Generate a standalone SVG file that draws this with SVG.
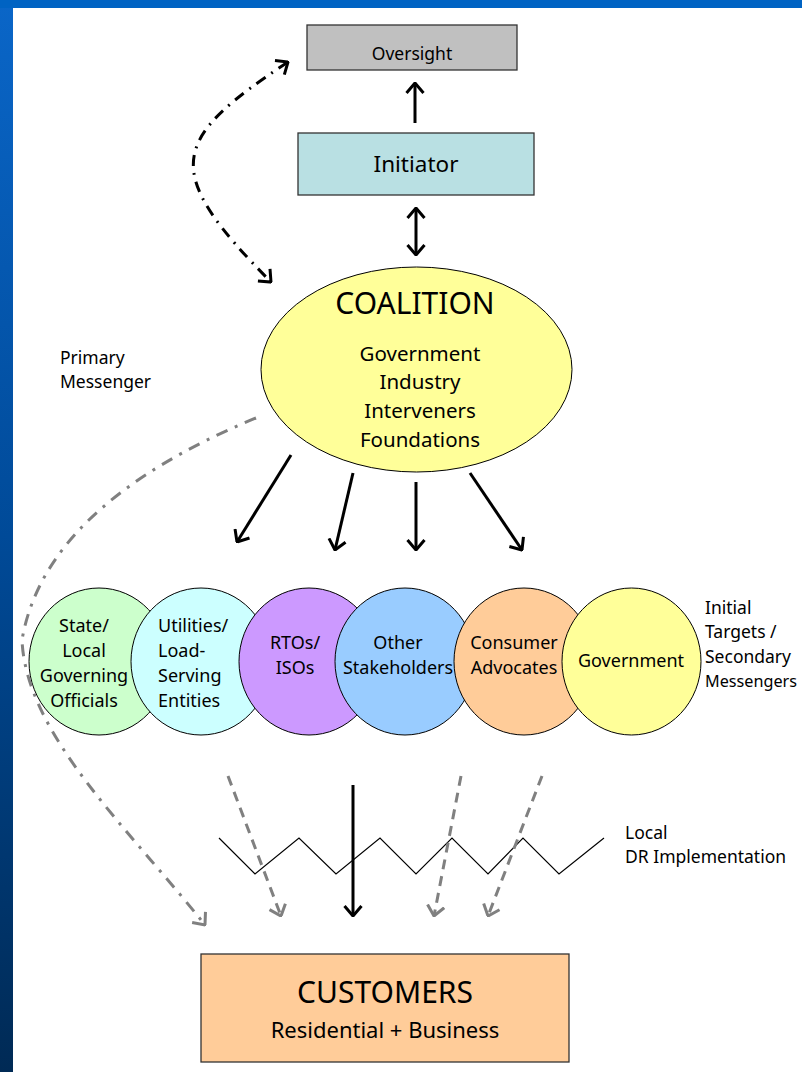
<svg xmlns="http://www.w3.org/2000/svg" width="802" height="1072" viewBox="0 0 802 1072">
<style>
text{font-family:"Noto Sans","Open Sans","Liberation Sans",sans-serif;fill:#000}
.box{stroke:#333;stroke-width:1.3}
.el{stroke:#000;stroke-width:1}
.solid{fill:none;stroke:#000;stroke-width:3}
.dashg{fill:none;stroke:#808080;stroke-width:3;stroke-dasharray:10 7}
.dashdotk{fill:none;stroke:#000;stroke-width:3;stroke-dasharray:11 7 2 7}
.dashdotg{fill:none;stroke:#808080;stroke-width:3;stroke-dasharray:12 8 3 8}
.zig{fill:none;stroke:#000;stroke-width:1.2}
.c{text-anchor:middle}
</style>
<defs>
<linearGradient id="bg" x1="0" y1="0" x2="0" y2="1">
<stop offset="0" stop-color="#0a66c8"/>
<stop offset="0.5" stop-color="#004a98"/>
<stop offset="1" stop-color="#002a55"/>
</linearGradient>
<marker id="ak" viewBox="0 0 12 20" refX="11" refY="10" markerWidth="12" markerHeight="20" markerUnits="userSpaceOnUse" orient="auto-start-reverse">
<path d="M1,1.5 L11,10 L1,18.5" fill="none" stroke="#000" stroke-width="3" stroke-dasharray="none"/>
</marker>
<marker id="ag" viewBox="0 0 12 20" refX="11" refY="10" markerWidth="12" markerHeight="20" markerUnits="userSpaceOnUse" orient="auto-start-reverse">
<path d="M1,1.5 L11,10 L1,18.5" fill="none" stroke="#808080" stroke-width="3" stroke-dasharray="none"/>
</marker>
</defs>
<rect x="0" y="0" width="802" height="1072" fill="url(#bg)"/>
<rect x="0" y="0" width="802" height="8" fill="#0063c3"/>
<rect x="13" y="8" width="789" height="1064" fill="#fff"/>

<g id="oversight">
<rect class="box" x="307" y="25" width="210" height="45" fill="#c0c0c0"/>
<text class="c" x="412" y="60" font-size="17.5">Oversight</text>
</g>
<g id="initiator">
<rect class="box" x="298" y="133" width="236" height="62" fill="#b9e0e3"/>
<text class="c" x="416" y="172" font-size="22.5">Initiator</text>
</g>
<g id="coalition">
<ellipse class="el" cx="416.5" cy="369.5" rx="155.5" ry="102.5" fill="#ffff99"/>
<text class="c" x="415" y="314" font-size="30">COALITION</text>
<text class="c" x="420" y="361" font-size="20.5">Government</text>
<text class="c" x="420" y="389" font-size="20.5">Industry</text>
<text class="c" x="420" y="418" font-size="20.5">Interveners</text>
<text class="c" x="420" y="447" font-size="20.5">Foundations</text>
</g>

<g id="state-local">
<ellipse class="el" cx="99" cy="661.5" rx="70" ry="73.5" fill="#ccffcc"/>
<text class="c" font-size="18"><tspan x="84" y="632">State/</tspan><tspan x="84" y="657">Local</tspan><tspan x="84" y="682">Governing</tspan><tspan x="84" y="707">Officials</tspan></text>
</g>
<g id="utilities">
<ellipse class="el" cx="201" cy="661.5" rx="70" ry="73.5" fill="#ccffff"/>
<text font-size="18"><tspan x="158" y="632">Utilities/</tspan><tspan x="158" y="657">Load-</tspan><tspan x="158" y="682">Serving</tspan><tspan x="158" y="707">Entities</tspan></text>
</g>
<g id="rtos">
<ellipse class="el" cx="309" cy="661.5" rx="70" ry="73.5" fill="#cc99ff"/>
<text class="c" font-size="18"><tspan x="295" y="649">RTOs/</tspan><tspan x="295" y="674">ISOs</tspan></text>
</g>
<g id="other">
<ellipse class="el" cx="405" cy="661.5" rx="70" ry="73.5" fill="#99ccff"/>
<text class="c" font-size="18"><tspan x="398" y="649">Other</tspan><tspan x="398" y="674">Stakeholders</tspan></text>
</g>
<g id="consumer">
<ellipse class="el" cx="524" cy="661.5" rx="70" ry="73.5" fill="#ffcc99"/>
<text class="c" font-size="18"><tspan x="514" y="649">Consumer</tspan><tspan x="514" y="674">Advocates</tspan></text>
</g>
<g id="government">
<ellipse class="el" cx="631.5" cy="661.5" rx="69.5" ry="73.5" fill="#ffff99"/>
<text class="c" x="631" y="667" font-size="18">Government</text>
</g>

<g id="customers">
<rect class="box" x="201" y="954" width="368" height="108" fill="#ffcc99"/>
<text class="c" x="385" y="1003" font-size="30">CUSTOMERS</text>
<text class="c" x="385" y="1038" font-size="22">Residential + Business</text>
</g>

<g id="labels">
<text font-size="17.5"><tspan x="60" y="364">Primary</tspan><tspan x="60" y="388">Messenger</tspan></text>
<text font-size="17.5"><tspan x="705" y="614">Initial</tspan><tspan x="705" y="638">Targets /</tspan><tspan x="705" y="663">Secondary</tspan></text>
<text x="705" y="687" font-size="16" textLength="92" lengthAdjust="spacingAndGlyphs">Messengers</text>
<text font-size="17.5"><tspan x="625" y="839">Local</tspan><tspan x="625" y="863">DR Implementation</tspan></text>
</g>

<g id="connectors">
<path class="solid" d="M415,123 L415,83" marker-end="url(#ak)"/>
<path class="solid" d="M416,208 L416,255" marker-start="url(#ak)" marker-end="url(#ak)"/>
<path class="dashdotk" d="M288,62 C170,140 160,170 271,282" marker-start="url(#ak)" marker-end="url(#ak)"/>
<path class="solid" d="M291,455 L237,542" marker-end="url(#ak)"/>
<path class="solid" d="M353,473 L335,550" marker-end="url(#ak)"/>
<path class="solid" d="M416,482 L416,550" marker-end="url(#ak)"/>
<path class="solid" d="M470,473 L522,550" marker-end="url(#ak)"/>
<path class="dashdotg" d="M256,418 Q45,505 22,640 C26,735 130,830 205,925" marker-end="url(#ag)"/>
<path class="zig" d="M219,838 L255,874 L299,838 L336,874 L380,838 L416,874 L452,838 L488,874 L523,838 L559,874 L604,838"/>
<path class="solid" d="M353,785 L353,916" marker-end="url(#ak)"/>
<path class="dashg" d="M228,776 L281,916" marker-end="url(#ag)"/>
<path class="dashg" d="M461,776 L434,916" marker-end="url(#ag)"/>
<path class="dashg" d="M542,776 L488,916" marker-end="url(#ag)"/>
</g>
</svg>
